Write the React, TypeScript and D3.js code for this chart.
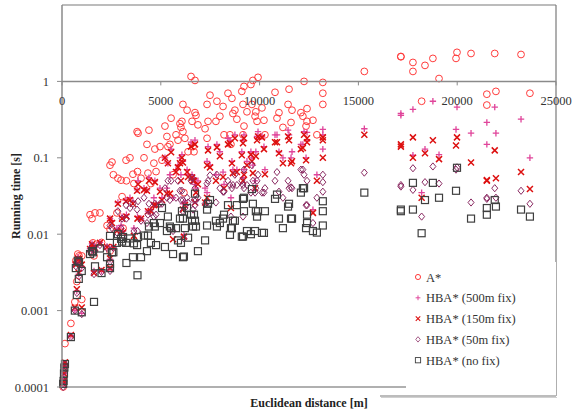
import React from "react";
import * as d3 from "d3";

const distances = [
  60, 80, 100, 120, 150, 450, 650, 750, 850, 1000, 1000, 700, 800, 1620, 2000, 2430, 2430, 1420, 1670, 1520,
  2280, 1920, 860, 1570, 2430, 2600, 2780, 2830, 2990, 3040, 3090, 3240, 3260, 3440, 3590, 3640, 3800, 3820, 3850, 4000,
  4150, 4300, 4350, 4400, 4500, 4650, 4700, 4760, 4960, 2530,
  5060, 5210, 5310, 5360, 5460, 5520, 5620, 5770, 5870, 5970, 6020, 6070, 6120, 6120, 6170, 6220, 6330, 6380, 6530, 6580,
  6630, 6680, 6730, 6730, 6780, 6880, 7240, 7340, 7340, 7390, 7490, 7790, 7840, 7990, 8150, 8200, 8400, 8500, 8550, 8600,
  8650, 8750, 8850, 9100, 9160, 9160, 9210, 9210, 9360, 9560, 9610, 9660, 9770, 9810, 9920, 9870,
  10120, 10220, 10270, 10780, 10880, 10980, 11180, 11440, 11490, 11590, 11640, 12090, 12190, 12250, 12350, 12400, 12400, 12700, 12900, 13200,
  13200, 13200, 15300, 17150, 17150, 17760, 17760, 18200, 18370, 18770, 19080, 19990, 19940, 20700, 21500, 21500, 21900, 21960, 23230, 23680,
];

const aStar = [
  0.0001, 0.00012, 0.00016, 0.00019, 0.00037, 0.00068, 0.0013, 0.0024, 0.0042, 0.0052, 0.0014, 0.0045, 0.0055, 0.0052, 0.0078, 0.006, 0.0116, 0.018, 0.019, 0.016,
  0.013, 0.019, 0.0052, 0.0077, 0.08, 0.06, 0.019, 0.054, 0.051, 0.031, 0.012, 0.093, 0.05, 0.1, 0.061, 0.046, 0.22, 0.066, 0.21, 0.054,
  0.1, 0.15, 0.063, 0.23, 0.046, 0.085, 0.13, 0.066, 0.14, 0.088,
  0.093, 0.26, 0.19, 0.14, 0.15, 0.33, 0.06, 0.2, 0.17, 0.28, 0.25, 0.3, 0.5, 0.22, 0.035, 0.18, 0.42, 0.12, 1.16, 0.3,
  0.14, 0.12, 1.03, 0.39, 0.36, 0.27, 0.24, 0.5, 0.18, 0.3, 0.66, 0.3, 0.55, 0.35, 0.47, 0.2, 0.7, 0.2, 0.15, 0.6,
  0.38, 0.42, 0.32, 0.74, 0.5, 0.2, 0.86, 0.26, 0.4, 0.91, 0.5, 1.03, 0.35, 0.4, 1.13, 0.3,
  0.45, 0.31, 0.2, 0.72, 0.33, 0.39, 0.25, 0.5, 0.79, 0.29, 0.42, 0.39, 0.35, 1.0, 0.26, 0.44, 0.3, 0.31, 0.2, 0.97,
  0.7, 0.5, 1.35, 2.12, 2.1, 1.77, 1.35, 0.55, 1.62, 2.0, 1.09, 2.4, 2.0, 2.32, 0.68, 0.49, 2.32, 0.74, 2.25, 0.7,
];

const hba500 = [
  0.00011, 0.00013, 0.00015, 0.0002, 0.0002, 0.00047, 0.001, 0.0018, 0.003, 0.0038, 0.00092, 0.0042, 0.005, 0.0033, 0.0033, 0.0035, 0.0047, 0.0065, 0.0068, 0.0075,
  0.0069, 0.0078, 0.0046, 0.0064, 0.016, 0.0068, 0.012, 0.026, 0.013, 0.017, 0.011, 0.028, 0.018, 0.03, 0.027, 0.012, 0.038, 0.017, 0.05, 0.016,
  0.04, 0.038, 0.02, 0.055, 0.021, 0.03, 0.05, 0.025, 0.04, 0.015,
  0.03, 0.1, 0.04, 0.085, 0.06, 0.13, 0.03, 0.07, 0.08, 0.1, 0.06, 0.11, 0.09, 0.025, 0.0097, 0.026, 0.07, 0.06, 0.16, 0.06,
  0.055, 0.052, 0.17, 0.045, 0.04, 0.05, 0.04, 0.09, 0.035, 0.14, 0.08, 0.06, 0.15, 0.12, 0.065, 0.045, 0.18, 0.17, 0.03, 0.09,
  0.07, 0.2, 0.07, 0.12, 0.17, 0.055, 0.2, 0.07, 0.09, 0.12, 0.1, 0.08, 0.05, 0.12, 0.22, 0.19,
  0.19, 0.14, 0.07, 0.2, 0.2, 0.12, 0.1, 0.23, 0.2, 0.1, 0.12, 0.15, 0.15, 0.22, 0.1, 0.215, 0.17, 0.021, 0.06, 0.235,
  0.13, 0.2, 0.24, 0.38, 0.36, 0.43, 0.108, 0.035, 0.13, 0.55, 0.11, 0.46, 0.235, 0.21, 0.29, 0.15, 0.46, 0.21, 0.32, 0.1,
];

const hba150 = [
  0.00011, 0.00012, 0.00015, 0.00019, 0.00021, 0.00048, 0.0011, 0.0019, 0.0031, 0.004, 0.0011, 0.004, 0.0048, 0.0031, 0.0034, 0.0036, 0.0048, 0.0064, 0.0066, 0.0074,
  0.0068, 0.0077, 0.0047, 0.0066, 0.016, 0.0068, 0.011, 0.025, 0.011, 0.016, 0.0105, 0.027, 0.017, 0.028, 0.025, 0.0095, 0.037, 0.016, 0.045, 0.016,
  0.038, 0.037, 0.02, 0.05, 0.02, 0.024, 0.048, 0.024, 0.036, 0.014,
  0.028, 0.1, 0.034, 0.085, 0.034, 0.118, 0.0086, 0.065, 0.075, 0.085, 0.05, 0.1, 0.087, 0.021, 0.0093, 0.024, 0.065, 0.056, 0.14, 0.055,
  0.05, 0.05, 0.15, 0.026, 0.035, 0.045, 0.026, 0.08, 0.03, 0.125, 0.075, 0.05, 0.137, 0.105, 0.056, 0.04, 0.15, 0.155, 0.022, 0.085,
  0.063, 0.18, 0.065, 0.108, 0.155, 0.05, 0.18, 0.06, 0.08, 0.11, 0.09, 0.063, 0.04, 0.105, 0.19, 0.17,
  0.185, 0.13, 0.061, 0.16, 0.16, 0.115, 0.085, 0.19, 0.17, 0.085, 0.09, 0.13, 0.134, 0.2, 0.093, 0.18, 0.16, 0.019, 0.05, 0.185,
  0.1, 0.17, 0.2, 0.14, 0.15, 0.185, 0.1, 0.03, 0.115, 0.17, 0.096, 0.185, 0.145, 0.087, 0.051, 0.05, 0.125, 0.054, 0.065, 0.039,
];

const hba50 = [
  0.0001, 0.00012, 0.00016, 0.00018, 0.0002, 0.00045, 0.001, 0.0017, 0.0028, 0.0036, 0.0009, 0.0038, 0.0046, 0.003, 0.0032, 0.0033, 0.0044, 0.006, 0.006, 0.007,
  0.0066, 0.0072, 0.0044, 0.0062, 0.013, 0.0066, 0.0105, 0.02, 0.012, 0.016, 0.0098, 0.024, 0.016, 0.022, 0.025, 0.011, 0.021, 0.011, 0.027, 0.015,
  0.03, 0.014, 0.018, 0.025, 0.019, 0.017, 0.025, 0.018, 0.025, 0.012,
  0.025, 0.04, 0.03, 0.05, 0.028, 0.05, 0.011, 0.03, 0.05, 0.037, 0.028, 0.037, 0.028, 0.02, 0.0088, 0.022, 0.03, 0.026, 0.05, 0.055,
  0.021, 0.028, 0.04, 0.024, 0.028, 0.03, 0.025, 0.046, 0.026, 0.05, 0.059, 0.026, 0.06, 0.04, 0.036, 0.036, 0.05, 0.044, 0.017, 0.04,
  0.044, 0.06, 0.044, 0.05, 0.017, 0.044, 0.07, 0.04, 0.044, 0.035, 0.08, 0.05, 0.035, 0.04, 0.06, 0.05,
  0.035, 0.035, 0.04, 0.05, 0.065, 0.036, 0.03, 0.05, 0.04, 0.041, 0.04, 0.07, 0.07, 0.06, 0.024, 0.024, 0.05, 0.014, 0.03, 0.048,
  0.036, 0.06, 0.064, 0.044, 0.042, 0.073, 0.038, 0.017, 0.048, 0.077, 0.046, 0.075, 0.07, 0.026, 0.029, 0.03, 0.04, 0.03, 0.037, 0.025,
];

const hbaNoFix = [
  0.00011, 0.00012, 0.00015, 0.00018, 0.0002, 0.00045, 0.001, 0.0016, 0.0026, 0.0033, 0.00095, 0.0036, 0.0045, 0.0013, 0.0031, 0.0036, 0.0041, 0.0055, 0.0038, 0.006,
  0.005, 0.0065, 0.0043, 0.0058, 0.0095, 0.0058, 0.0077, 0.01, 0.0087, 0.008, 0.0092, 0.0077, 0.0042, 0.0088, 0.005, 0.0076, 0.0072, 0.0029, 0.0092, 0.005,
  0.0096, 0.006, 0.0096, 0.0126, 0.0077, 0.014, 0.0126, 0.0072, 0.014, 0.0058,
  0.022, 0.0068, 0.011, 0.017, 0.0126, 0.012, 0.0055, 0.012, 0.0083, 0.016, 0.0077, 0.02, 0.016, 0.005, 0.0051, 0.012, 0.022, 0.009, 0.018, 0.015,
  0.0126, 0.018, 0.034, 0.015, 0.0126, 0.006, 0.0083, 0.021, 0.013, 0.025, 0.028, 0.015, 0.0126, 0.014, 0.016, 0.018, 0.024, 0.0098, 0.012, 0.012,
  0.015, 0.015, 0.024, 0.0093, 0.029, 0.0093, 0.03, 0.02, 0.011, 0.01, 0.039, 0.025, 0.011, 0.02, 0.02, 0.017,
  0.0104, 0.0104, 0.02, 0.029, 0.033, 0.016, 0.012, 0.023, 0.025, 0.016, 0.016, 0.035, 0.04, 0.04, 0.012, 0.018, 0.014, 0.011, 0.0105, 0.027,
  0.013, 0.02, 0.035, 0.021, 0.02, 0.047, 0.021, 0.0103, 0.028, 0.047, 0.03, 0.074, 0.037, 0.016, 0.022, 0.018, 0.028, 0.023, 0.021, 0.017,
];

const xTicks = [0, 5000, 10000, 15000, 20000, 25000];
const yTicks = [0.0001, 0.001, 0.01, 0.1, 1];
const yTickLabels = ["0.0001", "0.001", "0.01", "0.1", "1"];
const seriesNames = ["A*", "HBA* (500m fix)", "HBA* (150m fix)", "HBA* (50m fix)", "HBA* (no fix)"];

const FONT = "'Liberation Serif', 'Times New Roman', serif";
const COLORS = ["#ff3b3b", "#e0449a", "#dd1010", "#8a2a62", "#3f3f3f"];

function Marker({ kind, x, y, color, s = 1 }: { kind: number; x: number; y: number; color: string; s?: number }) {
  const t = `translate(${x},${y}) scale(${s})`;
  if (kind === 0) return <circle cx={x} cy={y} r={3.4 * s} fill="none" stroke={color} strokeWidth={1} />;
  if (kind === 1) return <path transform={t} d="M-3.2,0H3.2M0,-3.2V3.2" fill="none" stroke={color} strokeWidth={1.3} />;
  if (kind === 2) return <path transform={t} d="M-3,-3L3,3M-3,3L3,-3" fill="none" stroke={color} strokeWidth={1.5} />;
  if (kind === 3) return <path transform={t} d="M0,-3.6L3,0L0,3.6L-3,0Z" fill="none" stroke={color} strokeWidth={1} />;
  return <rect transform={t} x={-3.5} y={-3.5} width={7} height={7} fill="none" stroke={color} strokeWidth={1.2} />;
}

export default function App() {
  const left = 62, right = 556, top = 5, bottom = 387;
  const x = d3.scaleLinear().domain([0, 25000]).range([left, right]);
  const y = d3.scaleLog().domain([0.0001, 10]).range([bottom, top]);
  const series = [aStar, hba500, hba150, hba50, hbaNoFix];
  const y1 = y(1);

  return (
    <svg width={572} height={416} style={{ position: "absolute", left: 0, top: 0, background: "#fff" }} fontFamily={FONT}>
      <rect x={0} y={0} width={572} height={416} fill="#fff" />
      {/* frame */}
      <line x1={left} x2={right} y1={top} y2={top} stroke="#7a7a7a" strokeWidth={1.2} />
      <line x1={right} x2={right} y1={top} y2={396} stroke="#7a7a7a" strokeWidth={1.2} />
      <line x1={left} x2={right} y1={bottom} y2={bottom} stroke="#b0b0b0" strokeWidth={2} />
      {/* points */}
      {series.map((vals, si) => (
        <g key={si}>
          {vals.map((v, i) => (
            <Marker key={i} kind={si} x={x(distances[i])} y={y(v)} color={COLORS[si]} />
          ))}
        </g>
      ))}
      {/* y axis */}
      <line x1={left} x2={left} y1={top} y2={bottom} stroke="#8a8a8a" strokeWidth={1.5} />
      {yTicks.map((t, i) => (
        <g key={t}>
          <line x1={left - 5} x2={left} y1={y(t)} y2={y(t)} stroke="#8a8a8a" strokeWidth={1} />
          <text x={49} y={y(t) + 4.5} textAnchor="end" fontSize={12.5} fill="#333">{yTickLabels[i]}</text>
        </g>
      ))}
      {/* x axis at y=1 */}
      <line x1={left} x2={right} y1={y1} y2={y1} stroke="#8a8a8a" strokeWidth={1.5} />
      {xTicks.map((t) => (
        <g key={t}>
          <line x1={x(t)} x2={x(t)} y1={y1} y2={y1 + 4} stroke="#8a8a8a" strokeWidth={1} />
          <text x={x(t)} y={y1 + 24} textAnchor="middle" fontSize={12.5} fill="#333">{d3.format("d")(t)}</text>
        </g>
      ))}
      {/* axis titles */}
      <text transform="translate(20,196) rotate(-90)" textAnchor="middle" fontSize={12} fontWeight="bold" fill="#222">Running time [s]</text>
      <text x={309} y={407} textAnchor="middle" fontSize={12} fontWeight="bold" fill="#222">Euclidean distance [m]</text>
      {/* legend */}
      <rect x={406} y={262} width={150} height={134} fill="#fff" />
      <line x1={380} x2={556} y1={396} y2={396} stroke="#7a7a7a" strokeWidth={1.2} />
      <line x1={381} x2={557} y1={397.5} y2={397.5} stroke="#d0d0d0" strokeWidth={1} />
      {seriesNames.map((n, i) => {
        const ly = 277 + i * 20.8;
        return (
          <g key={n}>
            <Marker kind={i} x={418} y={ly} color={COLORS[i]} s={0.75} />
            <text x={426} y={ly + 4.5} fontSize={12.5} fill="#333">{n}</text>
          </g>
        );
      })}
    </svg>
  );
}
